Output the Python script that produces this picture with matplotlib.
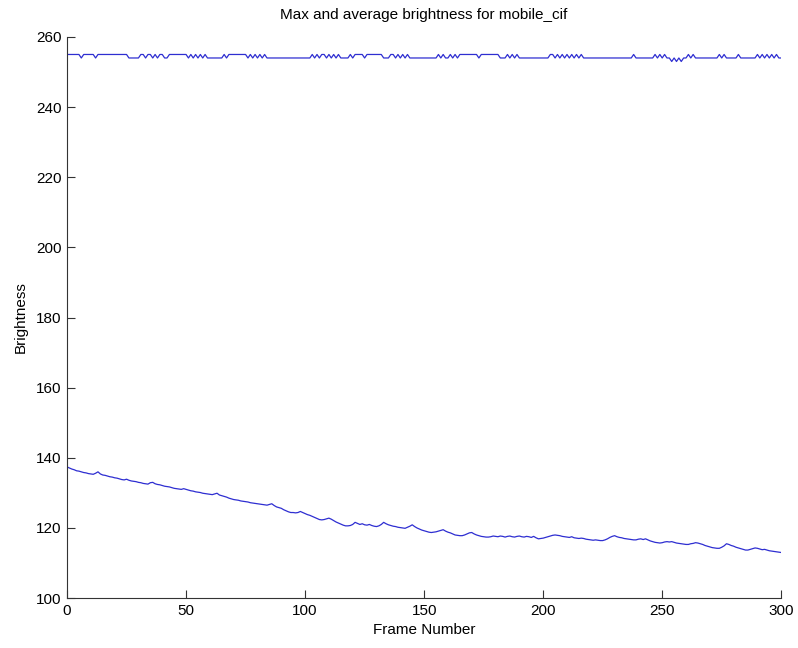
import numpy as np
import matplotlib
matplotlib.use("Agg")
import matplotlib.pyplot as plt

plt.rcParams["font.family"] = ["Liberation Sans", "DejaVu Sans"]

# per-frame brightness of the sequence (frames 0..300)
max_brightness = [
    255, 255, 255, 255, 255, 255, 254, 255, 255, 255, 255, 255, 254, 255, 255, 255, 255, 255, 255, 255,
    255, 255, 255, 255, 255, 255, 254, 254, 254, 254, 254, 255, 255, 254, 255, 255, 254, 255, 254, 255,
    255, 254, 254, 255, 255, 255, 255, 255, 255, 255, 255, 254, 255, 254, 255, 254, 255, 254, 255, 254,
    254, 254, 254, 254, 254, 254, 255, 254, 255, 255, 255, 255, 255, 255, 255, 255, 254, 255, 254, 255,
    254, 255, 254, 255, 254, 254, 254, 254, 254, 254, 254, 254, 254, 254, 254, 254, 254, 254, 254, 254,
    254, 254, 254, 255, 254, 255, 254, 255, 255, 254, 255, 254, 255, 254, 255, 254, 254, 254, 254, 255,
    254, 255, 255, 255, 255, 254, 255, 255, 255, 255, 255, 255, 255, 254, 254, 254, 255, 255, 254, 255,
    254, 255, 254, 255, 254, 254, 254, 254, 254, 254, 254, 254, 254, 254, 254, 254, 255, 254, 255, 254,
    254, 255, 254, 255, 254, 255, 255, 255, 255, 255, 255, 255, 255, 254, 255, 255, 255, 255, 255, 255,
    255, 255, 254, 254, 254, 255, 254, 255, 254, 255, 254, 254, 254, 254, 254, 254, 254, 254, 254, 254,
    254, 254, 254, 255, 255, 254, 255, 254, 255, 254, 255, 254, 255, 254, 255, 254, 255, 254, 254, 254,
    254, 254, 254, 254, 254, 254, 254, 254, 254, 254, 254, 254, 254, 254, 254, 254, 254, 254, 255, 254,
    254, 254, 254, 254, 254, 254, 254, 255, 254, 255, 254, 255, 254, 254, 253, 254, 253, 254, 253, 254,
    254, 255, 254, 255, 254, 254, 254, 254, 254, 254, 254, 254, 254, 254, 255, 254, 255, 254, 254, 254,
    254, 254, 255, 254, 254, 254, 254, 254, 254, 254, 255, 254, 255, 254, 255, 254, 255, 254, 255, 254, 254,
]

avg_brightness = [
    137.4, 137.1, 136.8, 136.6, 136.3, 136.2, 136.0, 135.8, 135.7, 135.5, 135.4, 135.3, 135.6, 136.0, 135.4, 135.1, 135.0, 134.8, 134.6, 134.5,
    134.3, 134.2, 134.0, 133.8, 133.7, 133.9, 133.6, 133.4, 133.3, 133.2, 133.0, 132.9, 132.7, 132.6, 132.5, 132.9, 133.0, 132.6, 132.4, 132.3,
    132.1, 131.9, 131.8, 131.7, 131.5, 131.3, 131.2, 131.1, 131.0, 131.2, 131.0, 130.8, 130.6, 130.5, 130.3, 130.2, 130.1, 129.9, 129.8, 129.7,
    129.6, 129.5, 129.7, 129.9, 129.4, 129.2, 129.0, 128.8, 128.5, 128.3, 128.1, 128.0, 127.9, 127.7, 127.6, 127.5, 127.4, 127.2, 127.1, 127.0,
    126.9, 126.8, 126.7, 126.6, 126.5, 126.7, 126.9, 126.4, 126.0, 125.8, 125.6, 125.2, 124.9, 124.6, 124.4, 124.4, 124.3, 124.4, 124.7, 124.4,
    124.1, 123.8, 123.6, 123.3, 123.0, 122.7, 122.4, 122.3, 122.4, 122.6, 122.8, 122.5, 122.1, 121.7, 121.4, 121.1, 120.8, 120.6, 120.6, 120.7,
    121.0, 121.6, 121.3, 121.0, 121.2, 120.9, 120.8, 121.0, 120.7, 120.5, 120.4, 120.6, 121.0, 121.6, 121.2, 120.9, 120.7, 120.5, 120.4, 120.2,
    120.1, 120.0, 119.9, 120.2, 120.5, 120.9, 120.4, 120.0, 119.7, 119.4, 119.2, 119.0, 118.8, 118.7, 118.8, 118.9, 119.1, 119.3, 119.5, 119.1,
    118.8, 118.6, 118.3, 118.0, 117.9, 117.8, 117.8, 118.0, 118.3, 118.6, 118.7, 118.3, 118.0, 117.8, 117.6, 117.5, 117.4, 117.4, 117.5, 117.7,
    117.6, 117.5, 117.7, 117.6, 117.4, 117.6, 117.7, 117.5, 117.4, 117.6, 117.7, 117.5, 117.4, 117.6, 117.5, 117.3, 117.6, 117.2, 116.9, 117.0,
    117.1, 117.3, 117.5, 117.7, 117.9, 118.0, 117.9, 117.8, 117.6, 117.5, 117.4, 117.3, 117.5, 117.2, 117.1, 117.0, 117.1, 117.0, 116.8, 116.7,
    116.6, 116.5, 116.6, 116.5, 116.4, 116.4, 116.6, 116.9, 117.3, 117.6, 117.8, 117.5, 117.3, 117.2, 117.0, 116.9, 116.8, 116.7, 116.6, 116.6,
    116.8, 116.9, 116.7, 116.9, 116.6, 116.3, 116.1, 115.9, 115.8, 115.7, 115.8, 116.0, 116.1, 116.0, 116.1, 115.9, 115.7, 115.6, 115.5, 115.4,
    115.3, 115.3, 115.5, 115.6, 115.8, 115.7, 115.5, 115.3, 115.0, 114.8, 114.6, 114.4, 114.3, 114.2, 114.2, 114.5, 114.9, 115.5, 115.3, 115.0,
    114.8, 114.5, 114.3, 114.1, 113.9, 113.7, 113.7, 113.9, 114.1, 114.3, 114.2, 114.0, 113.8, 113.9, 113.7, 113.5, 113.4, 113.3, 113.2, 113.1, 113.0,
]

x_ticks = [0, 50, 100, 150, 200, 250, 300]
y_ticks = [100, 120, 140, 160, 180, 200, 220, 240, 260]

frames = np.arange(len(max_brightness))

fig = plt.figure(figsize=(7.98, 6.48), dpi=100)
ax = fig.add_axes([0.084, 0.077, 0.895, 0.866])

line_col = (0.18, 0.18, 0.82)
ax.plot(frames, max_brightness, color=line_col, lw=0.9)
ax.plot(frames, avg_brightness, color=line_col, lw=0.9)

ax.set_xlim(0, 300)
ax.set_ylim(100, 260)
ax.set_xticks(x_ticks)
ax.set_yticks(y_ticks)

for side in ("top", "right"):
    ax.spines[side].set_visible(False)
for side in ("left", "bottom"):
    ax.spines[side].set_color("#333333")
    ax.spines[side].set_linewidth(0.8)
ax.tick_params(direction="in", length=6, width=0.8, color="#333333",
               labelsize=11, pad=4)

ax.set_title("Max and average brightness for mobile_cif", fontsize=11, pad=13)
ax.set_xlabel("Frame Number", fontsize=11, labelpad=4)
ax.set_ylabel("Brightness", fontsize=11, labelpad=6)

fig.savefig("out.png", dpi=100)
